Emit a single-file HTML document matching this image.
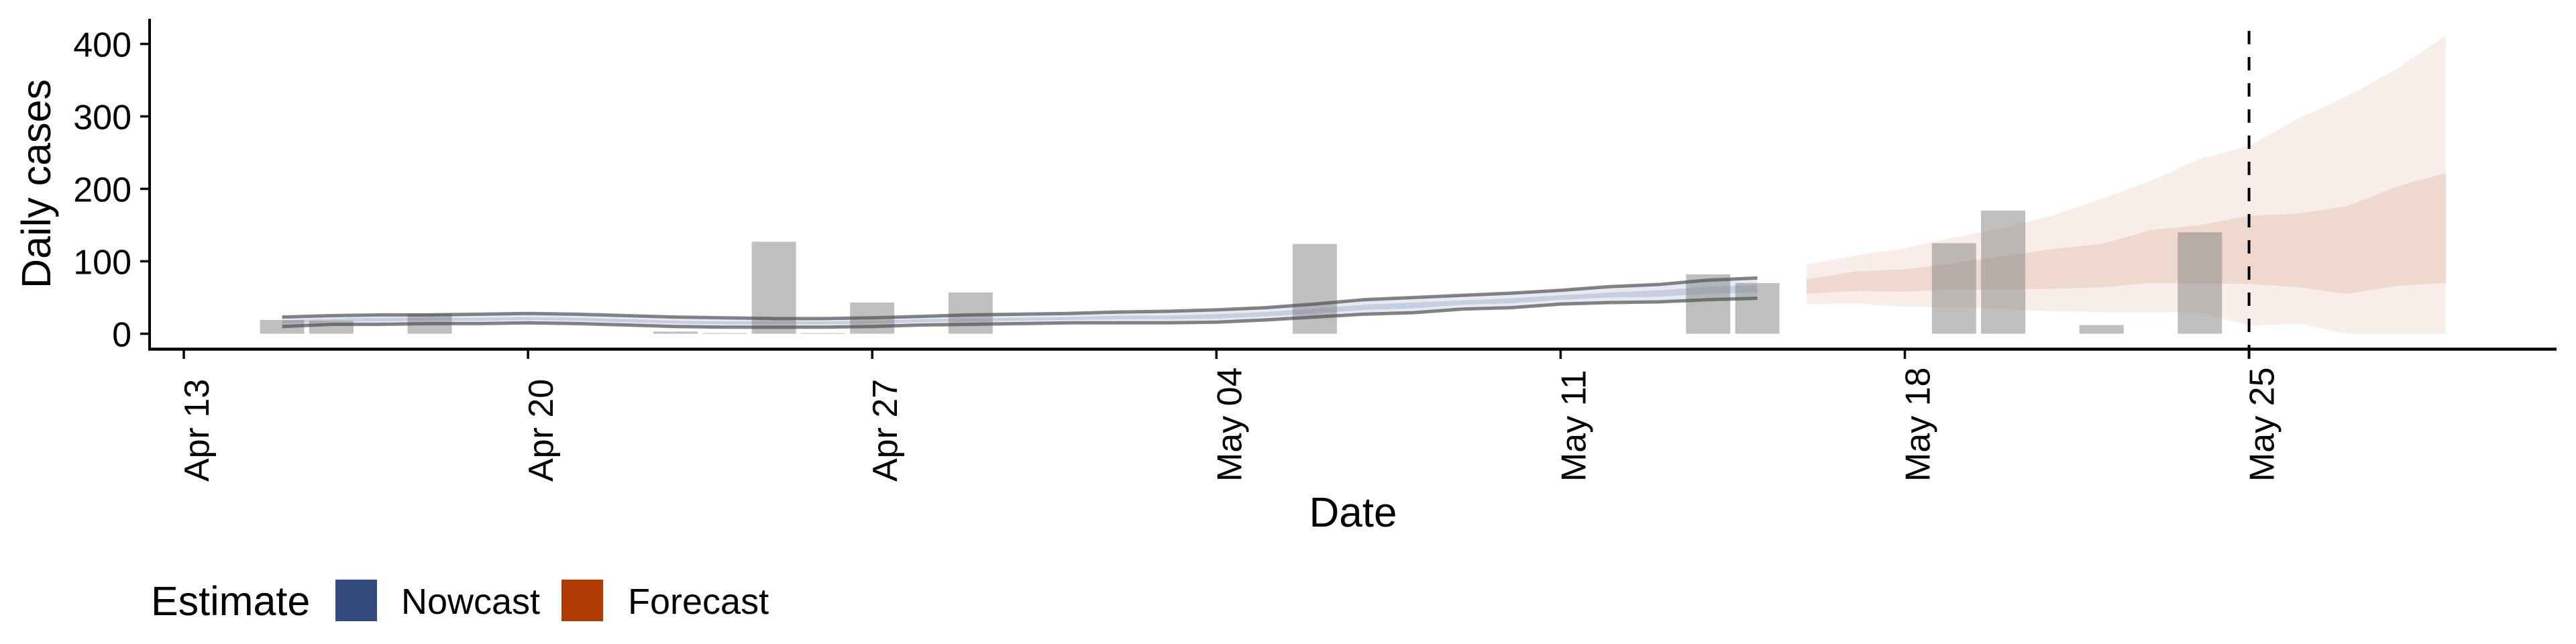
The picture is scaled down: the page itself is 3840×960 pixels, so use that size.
<!DOCTYPE html>
<html><head><meta charset="utf-8"><style>
html,body{margin:0;padding:0;background:#fff;}
svg{display:block;font-family:"Liberation Sans",Arial,sans-serif;}
</style></head><body>
<svg id="chart" width="3840" height="960" viewBox="0 0 3840 960" xmlns="http://www.w3.org/2000/svg">
<g id="plot"></g>
</svg>
<script>
// ---- data ----
const barDays = [2,3,5,10,11,12,13,14,16,23,31,32,36,37,39,41]; // days after Apr 13
const barValues = [19,18,28,3,1,127,1,43,57,124,82,70,125,170,12,140];
const nowDays = [2,3,4,5,6,7,8,9,10,11,12,13,14,15,16,17,18,19,20,21,22,23,24,25,26,27,28,29,30,31,32];
const nowUpper90 = [23,25,26,26,27,28,27,25,23,22,21,21,22,24,26,27,28,30,31,33,36,41,47,50,53,56,60,65,68,74,77];
const nowLower90 = [10,13,13,14,14,15,14,12,10,9,9,9,10,12,13,14,15,15,15,16,19,23,27,29,34,36,41,43,44,47,49];
const nowUpper50 = [18,21,22,22,22,23,22,20,18,17,17,17,18,20,21,22,23,25,25,27,30,35,40,43,46,49,53,57,60,65,67];
const nowLower50 = [14,17,17,18,18,19,18,16,14,13,13,13,14,16,17,18,19,20,20,21,24,28,33,35,40,42,47,50,51,55,57];
const fcDays = [33,34,35,36,37,38,39,40,41,42,43,44,45,46];
const fcUpper90 = [95,108,118,133,146,163,186,211,241,259,297,328,365,411];
const fcLower90 = [41,42,37,37,34,31,30,30,30,11,14,0,0,0];
const fcUpper50 = [75,86,89,97,107,117,124,143,150,163,166,176,203,222];
const fcLower50 = [55,59,58,61,61,62,64,70,69,69,64,55,66,70];
const yTicks = [0,100,200,300,400];
const xTickDays = [0,7,14,21,28,35,42];
const xTickLabels = ["Apr 13","Apr 20","Apr 27","May 04","May 11","May 18","May 25"];
const forecastDateDay = 42;

// ---- scales ----
const X0 = 274, DAY = 73.3;
const Y0 = 497.5, PER = 1.08;
const xs = d => X0 + d * DAY;
const ys = v => Y0 - v * PER;
const NS = "http://www.w3.org/2000/svg";
const g = document.getElementById("plot");
function mk(tag, attrs, parent) {
  const e = document.createElementNS(NS, tag);
  for (const k in attrs) e.setAttribute(k, attrs[k]);
  (parent || g).appendChild(e);
  return e;
}
function band(days, lo, hi) {
  let p = days.map((d, i) => xs(d) + "," + ys(hi[i]));
  for (let i = days.length - 1; i >= 0; i--) p.push(xs(days[i]) + "," + ys(lo[i]));
  return p.join(" ");
}
function line(days, v) { return days.map((d, i) => xs(d) + "," + ys(v[i])).join(" "); }

// forecast bands
let e;
e = mk("polygon", {points: band(fcDays, fcLower90, fcUpper90), fill: "#f8ede8"});


e = mk("polygon", {points: band(fcDays, fcLower50, fcUpper50), fill: "#efd9cf"});


// nowcast bands
e = mk("polygon", {points: band(nowDays, nowLower90, nowUpper90), fill: "#e7eaf2"});


e = mk("polygon", {points: band(nowDays, nowLower50, nowUpper50), fill: "#c6cee0"});


// bars
barDays.forEach((d, i) => {
  const w = DAY * 0.9;
  const b = mk("rect", {x: xs(d) - w / 2, y: ys(barValues[i]), width: w, height: barValues[i] * PER, fill: "#808080", "fill-opacity": "0.5"});
  
  
});
// nowcast bound lines
e = mk("polyline", {points: line(nowDays, nowUpper90), fill: "none", stroke: "#505050", "stroke-opacity": "0.7", "stroke-width": "5", "stroke-linejoin": "round"});


e = mk("polyline", {points: line(nowDays, nowLower90), fill: "none", stroke: "#505050", "stroke-opacity": "0.7", "stroke-width": "5", "stroke-linejoin": "round"});


// dashed line
e = mk("line", {x1: xs(forecastDateDay), x2: xs(forecastDateDay), y1: 46, y2: 535, stroke: "#000", "stroke-width": "4", "stroke-dasharray": "20,19"});


// axes
e = mk("line", {x1: 223, x2: 223, y1: 28, y2: 522, stroke: "#000", "stroke-width": "4"});


e = mk("line", {x1: 221, x2: 3811, y1: 520.5, y2: 520.5, stroke: "#000", "stroke-width": "4.5"});


yTicks.forEach(v => {
  const t = mk("line", {x1: 209, x2: 223, y1: ys(v), y2: ys(v), stroke: "#000", "stroke-width": "3.5"});
  
  
  const l = mk("text", {x: 196, y: ys(v) + 19, "text-anchor": "end", "font-size": "52", fill: "#000"});
  l.textContent = v;
  
  
});
xTickDays.forEach((d, i) => {
  const t = mk("line", {x1: xs(d), x2: xs(d), y1: 520, y2: 535, stroke: "#000", "stroke-width": "3.5"});
  
  
  const bx = xs(d) + 37, by = 718;
  const l = mk("text", {x: bx, y: by, "font-size": "52", fill: "#000", transform: "rotate(-90 " + bx + " " + by + ")"});
  l.textContent = xTickLabels[i];
  
  
});
</script>
<svg style="position:absolute;left:0;top:0" width="3840" height="960" xmlns="http://www.w3.org/2000/svg">
<text x="75" y="274" transform="rotate(-90 75 274)" text-anchor="middle" font-size="61" font-family="Liberation Sans, sans-serif">Daily cases</text>
<text x="2017" y="785" text-anchor="middle" font-size="62" font-family="Liberation Sans, sans-serif">Date</text>
<g font-family="Liberation Sans, sans-serif">
<text x="225" y="917" font-size="61">Estimate</text>
<rect x="500" y="864" width="62" height="62" fill="#344a7f"/>
<text x="598" y="915" font-size="54">Nowcast</text>
<rect x="837" y="864" width="62" height="62" fill="#b03a02"/>
<text x="936" y="915" font-size="54">Forecast</text>
</g>
</svg>
</body></html>
